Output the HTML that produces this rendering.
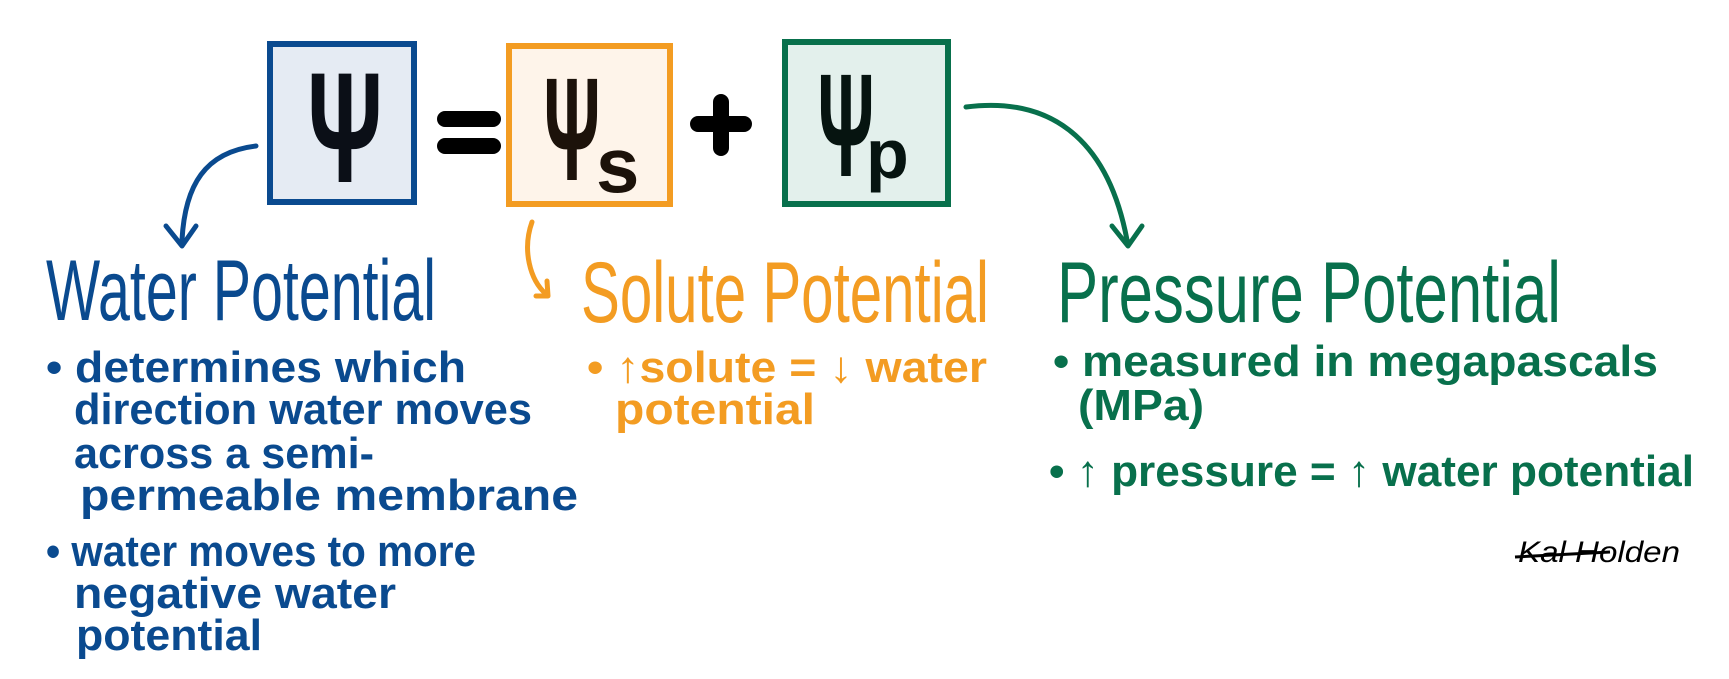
<!DOCTYPE html>
<html><head><meta charset="utf-8"><style>
html,body{margin:0;padding:0;background:#fff;width:1729px;height:679px;overflow:hidden}
svg{display:block}
text{font-family:"Liberation Sans Narrow","Liberation Sans",sans-serif;font-weight:bold}
</style></head><body>
<svg width="1729" height="679" viewBox="0 0 1729 679" xmlns="http://www.w3.org/2000/svg">
<rect x="270" y="44" width="144" height="158" fill="#e5ebf3" stroke="#0a4a8f" stroke-width="6"/>
<rect x="509" y="46" width="161" height="158" fill="#fef4ea" stroke="#f39c22" stroke-width="6"/>
<rect x="785" y="42" width="163" height="162" fill="#e3f0ec" stroke="#08704c" stroke-width="6"/>
<g font-family="DejaVu Sans">
<text x="0" y="0" font-size="150" text-anchor="middle" fill="#0b0f17" font-family="DejaVu Sans" transform="translate(345,182) scale(0.62,1.05)">Ψ</text>
<text x="0" y="0" font-size="140" text-anchor="middle" fill="#1c120a" font-family="DejaVu Sans" transform="translate(572,180) scale(0.5,1.05)">Ψ</text>
<text x="596" y="192" font-size="78" fill="#1c120a" font-family="DejaVu Sans">s</text>
<text x="0" y="0" font-size="140" text-anchor="middle" fill="#061410" font-family="DejaVu Sans" transform="translate(846,176) scale(0.5,1.05)">Ψ</text>
<text x="866" y="178" font-size="70" fill="#061410" font-family="DejaVu Sans">p</text>
</g>
<rect x="437" y="111" width="64" height="16" rx="8" fill="#000"/>
<rect x="437" y="138" width="64" height="16" rx="8" fill="#000"/>
<rect x="690" y="116" width="62" height="16" rx="8" fill="#000"/>
<rect x="713" y="94" width="16" height="62" rx="8" fill="#000"/>
<path d="M256,146 C205,152 185,185 182,240" fill="none" stroke="#0a4a8f" stroke-width="5" stroke-linecap="round"/>
<path d="M166,226 L182,246 L196,226" fill="none" stroke="#0a4a8f" stroke-width="5" stroke-linecap="round" stroke-linejoin="round"/>
<path d="M532,222 C522,250 530,280 546,294" fill="none" stroke="#f39c22" stroke-width="5" stroke-linecap="round"/>
<path d="M536,296 L548,296 L547,281" fill="none" stroke="#f39c22" stroke-width="5" stroke-linecap="round" stroke-linejoin="round"/>
<path d="M966,107 C1060,95 1110,150 1127,240" fill="none" stroke="#08704c" stroke-width="5" stroke-linecap="round"/>
<path d="M1112,226 L1128,246 L1142,226" fill="none" stroke="#08704c" stroke-width="5" stroke-linecap="round" stroke-linejoin="round"/>
<text x="46" y="320" font-size="86" fill="#0a4a8f" textLength="390" lengthAdjust="spacingAndGlyphs" style="font-weight:normal">Water Potential</text>
<text x="581" y="322" font-size="86" fill="#f39c22" textLength="408" lengthAdjust="spacingAndGlyphs" style="font-weight:normal">Solute Potential</text>
<text x="1057" y="322" font-size="86" fill="#08704c" textLength="504" lengthAdjust="spacingAndGlyphs" style="font-weight:normal">Pressure Potential</text>
<g fill="#0a4a8f" font-size="44">
<text x="46" y="382" textLength="420" lengthAdjust="spacingAndGlyphs">• determines which</text>
<text x="74" y="424" textLength="458" lengthAdjust="spacingAndGlyphs">direction water moves</text>
<text x="74" y="468" textLength="300" lengthAdjust="spacingAndGlyphs">across a semi-</text>
<text x="80" y="510" textLength="498" lengthAdjust="spacingAndGlyphs">permeable membrane</text>
<text x="46" y="566" textLength="430" lengthAdjust="spacingAndGlyphs">• water moves to more</text>
<text x="74" y="608" textLength="322" lengthAdjust="spacingAndGlyphs">negative water</text>
<text x="76" y="650" textLength="186" lengthAdjust="spacingAndGlyphs">potential</text>
</g>
<g fill="#f39c22" font-size="44">
<text x="587" y="382" textLength="400" lengthAdjust="spacingAndGlyphs">• ↑solute = ↓ water</text>
<text x="615" y="424" textLength="200" lengthAdjust="spacingAndGlyphs">potential</text>
</g>
<g fill="#08704c" font-size="44">
<text x="1053" y="376" textLength="605" lengthAdjust="spacingAndGlyphs">• measured in megapascals</text>
<text x="1078" y="420" textLength="126" lengthAdjust="spacingAndGlyphs">(MPa)</text>
<text x="1049" y="486" textLength="645" lengthAdjust="spacingAndGlyphs">• ↑ pressure = ↑ water potential</text>
</g>
<text x="1518" y="562" font-size="30" fill="#000" font-style="italic" textLength="162" lengthAdjust="spacingAndGlyphs" style="font-weight:normal">Kal Holden</text>
<path d="M1515,557 L1610,552" stroke="#000" stroke-width="3"/>
</svg>
</body></html>
